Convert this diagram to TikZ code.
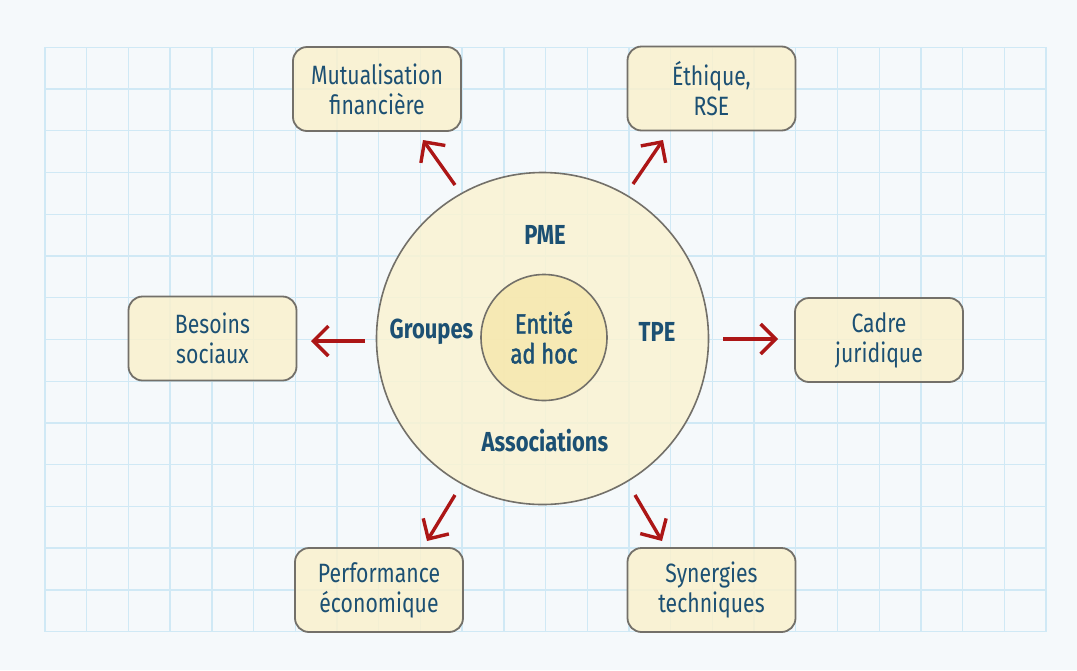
\documentclass[tikz,border=0pt]{standalone}
\usepackage{fontspec}
\setmainfont{Fira Sans}[FakeStretch=0.8]
\newfontfamily\medfont{Fira Sans}[FakeStretch=0.8, FakeBold=1.6]
\usetikzlibrary{arrows.meta}
\definecolor{bgc}{RGB}{245,249,251}
\definecolor{gridc}{RGB}{208,233,245}
\definecolor{cream}{RGB}{250,241,206}
\definecolor{ringc}{RGB}{250,243,210}
\definecolor{corec}{RGB}{246,230,168}
\definecolor{edgec}{RGB}{115,112,105}
\definecolor{txtc}{RGB}{28,80,115}
\definecolor{arrc}{RGB}{172,22,22}
\tikzset{
  gridline/.style={draw=gridc, line width=1.4pt},
  boxnode/.style={draw=edgec, line width=1.8pt, fill=cream, fill opacity=0.85, text opacity=1,
    rounded corners=14pt, minimum width=168pt, minimum height=84pt, align=center,
    text=txtc, font=\fontsize{26.5}{30}\selectfont},
  ringlabel/.style={text=txtc, font=\fontsize{27.5}{30}\selectfont\bfseries},
  arr/.style={draw=arrc, line width=3.4pt, -{Straight Barb[length=15pt,width=30pt,line width=3.4pt]}}
}
\begin{document}
\begin{tikzpicture}[x=1pt,y=-1pt]
\useasboundingbox (0,0) rectangle (1077,670);
\fill[bgc] (0,0) rectangle (1077,670);
% grid
\foreach \i in {0,...,24} \draw[gridline] (45+\i*41.71,47.3) -- (45+\i*41.71,631.7);
\foreach \j in {0,...,14} \draw[gridline] (45,47.3+\j*41.74) -- (1046,47.3+\j*41.74);
% circles
\node[circle, draw=edgec, line width=1.6pt, fill=ringc, fill opacity=0.85, minimum size=332pt, inner sep=0pt] (outer) at (542.5,338.5) {};
\node[circle, draw=edgec, line width=1.6pt, fill=corec, fill opacity=0.75, text opacity=1, minimum size=126pt, inner sep=0pt,
  align=center, text=txtc, font=\fontsize{27.5}{30}\medfont] (core) at (544,337.5) {Entité\\ad hoc};
\node[ringlabel] (pme) at (545,235) {PME};
\node[ringlabel] (grp) at (431.5,332) {Groupes};
\node[ringlabel] (tpe) at (657,332) {TPE};
\node[ringlabel] (asso) at (545,441) {Associations};
% boxes
\node[boxnode] (mutu) at (377,89) {Mutualisation\\financière};
\node[boxnode] (ethi) at (711.5,88.5) {Éthique,\\RSE};
\node[boxnode] (beso) at (212.5,338.5) {Besoins\\sociaux};
\node[boxnode] (cadr) at (879,340) {Cadre\\juridique};
\node[boxnode] (perf) at (379,590) {Performance\\économique};
\node[boxnode] (syne) at (711.5,590) {Synergies\\techniques};
% arrow end points
\coordinate (a1s) at (455,185); \coordinate (a1e) at (423,140);
\coordinate (a2s) at (633,184); \coordinate (a2e) at (663,140);
\coordinate (a3s) at (365,341); \coordinate (a3e) at (311,341);
\coordinate (a4s) at (723,339); \coordinate (a4e) at (778,339);
\coordinate (a5s) at (455,495); \coordinate (a5e) at (427,541);
\coordinate (a6s) at (635,495); \coordinate (a6e) at (662,541);
\draw[arr] (a1s) -- (a1e);
\draw[arr] (a2s) -- (a2e);
\draw[arr] (a3s) -- (a3e);
\draw[arr] (a4s) -- (a4e);
\draw[arr] (a5s) -- (a5e);
\draw[arr] (a6s) -- (a6e);
\end{tikzpicture}
\end{document}
